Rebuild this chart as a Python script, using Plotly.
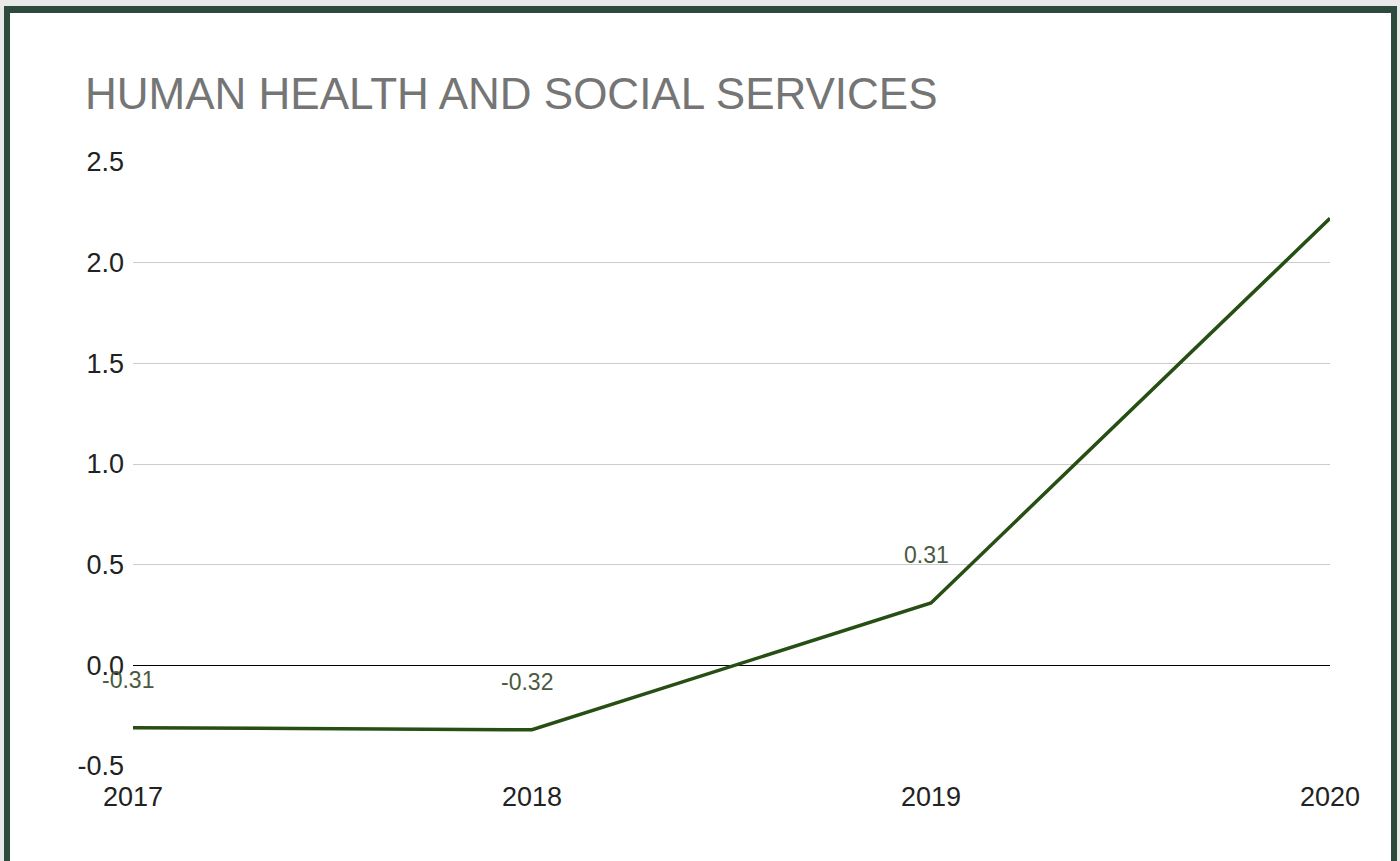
import plotly.graph_objects as go

years = [2017, 2018, 2019, 2020]
values = [-0.31, -0.32, 0.31, 2.22]
label_years = [2017, 2018, 2019]
label_values = [-0.31, -0.32, 0.31]
label_texts = ["-0.31", "-0.32", "0.31"]
y_ticks = [-0.5, 0.0, 0.5, 1.0, 1.5, 2.0, 2.5]
y_tick_text = ["-0.5", "0.0", "0.5", "1.0", "1.5", "2.0", "2.5"]

W, H = 1400, 861
L, R, T, B = 133, 1330, 162, 766


def px_x(p):
    return (p - L) / (R - L)


def px_y(p):
    return (B - p) / (B - T)


fig = go.Figure()
fig.add_trace(go.Scatter(
    x=years, y=values, mode="lines",
    line=dict(color="#274e13", width=3.5),
    hoverinfo="x+y", showlegend=False,
))

for xv, yv, t in zip(label_years, label_values, label_texts):
    fig.add_annotation(
        x=xv, y=yv, text=t, showarrow=False,
        yshift=48, xshift=-5, yanchor="middle", xanchor="center",
        font=dict(family="Liberation Sans, Arial", size=23, color="#4a5a40"),
    )

fig.add_shape(type="rect", xref="paper", yref="paper",
              x0=px_x(4), x1=px_x(1397), y0=px_y(900), y1=px_y(6),
              fillcolor="#2e4a3c", line=dict(width=0), layer="below")
fig.add_shape(type="rect", xref="paper", yref="paper",
              x0=px_x(10), x1=px_x(1391), y0=px_y(900), y1=px_y(13),
              fillcolor="#ffffff", line=dict(width=0), layer="below")

fig.update_layout(
    width=W, height=H,
    margin=dict(l=L, r=W - R, t=T, b=H - B, autoexpand=False),
    paper_bgcolor="#e8e9e8",
    plot_bgcolor="rgba(0,0,0,0)",
    title=dict(
        text="HUMAN HEALTH AND SOCIAL SERVICES",
        xref="container", yref="container",
        x=85 / W, xanchor="left",
        y=1 - 94 / H, yanchor="middle",
        font=dict(family="Liberation Sans, Arial", size=44, color="#757575"),
    ),
    font=dict(family="Liberation Sans, Arial", color="#222222"),
    xaxis=dict(
        range=[2017, 2020], tickvals=years, ticktext=[str(y) for y in years],
        showgrid=False, zeroline=False, showline=False,
        tickfont=dict(size=27, color="#222222"),
        ticklabelstandoff=12,
    ),
    yaxis=dict(
        range=[-0.5, 2.5], tickvals=y_ticks, ticktext=y_tick_text,
        showgrid=True, gridcolor="#cccccc", gridwidth=1,
        zeroline=True, zerolinecolor="#000000", zerolinewidth=1,
        showline=False,
        tickfont=dict(size=27, color="#222222"),
        ticklabelstandoff=8,
    ),
)

fig.write_html(
    "out.html",
    config={"displayModeBar": False},
    post_script="document.body.style.margin='0';document.body.style.overflow='hidden';",
)
